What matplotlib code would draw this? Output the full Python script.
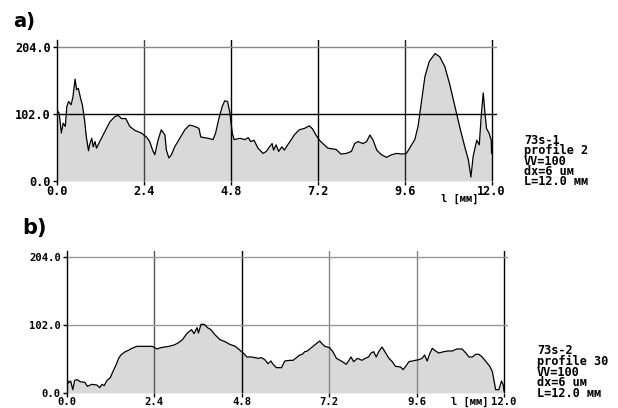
#!/usr/bin/env python3
"""Two surface profiles (73s-1 profile 2, 73s-2 profile 30) in the old plotter style."""

import matplotlib

matplotlib.use("Agg")
import matplotlib.pyplot as plt

W, H = 618, 408

# profile a) : 73s-1, profile 2
a_x = [0.00, 0.06, 0.12, 0.17, 0.23, 0.27, 0.32, 0.39, 0.44, 0.50, 0.54, 0.59, 0.65, 0.70,
       0.76, 0.81, 0.87, 0.90, 0.96, 1.00, 1.05, 1.09, 1.18, 1.32, 1.46, 1.60, 1.69, 1.78,
       1.90, 2.01, 2.15, 2.33, 2.47, 2.56, 2.64, 2.70, 2.79, 2.88, 2.98, 3.02, 3.09, 3.16,
       3.25, 3.39, 3.53, 3.66, 3.75, 3.85, 3.92, 3.97, 4.17, 4.31, 4.38, 4.47, 4.56, 4.63,
       4.71, 4.77, 4.84, 4.89, 5.05, 5.19, 5.28, 5.35, 5.44, 5.55, 5.69, 5.78, 5.87, 5.94,
       5.98, 6.05, 6.12, 6.21, 6.28, 6.37, 6.46, 6.55, 6.69, 6.83, 6.97, 7.06, 7.15, 7.25,
       7.34, 7.48, 7.71, 7.84, 7.99, 8.13, 8.22, 8.31, 8.45, 8.55, 8.64, 8.73, 8.83, 8.96,
       9.10, 9.24, 9.38, 9.52, 9.65, 9.76, 9.88, 9.97, 10.07, 10.16, 10.28, 10.44, 10.57,
       10.71, 10.85, 10.99, 11.13, 11.26, 11.36, 11.43, 11.49, 11.59, 11.66, 11.72, 11.77,
       11.81, 11.86, 11.93, 11.99, 12.00]
a_y = [108, 103, 73, 88, 83, 113, 121, 116, 128, 155, 139, 141, 126, 116,
       93, 67, 46, 55, 65, 52, 60, 50, 60, 75, 90, 98, 100, 95,
       95, 83, 77, 73, 67, 60, 47, 40, 62, 78, 70, 47, 35, 40,
       52, 65, 78, 85, 84, 82, 80, 67, 65, 63, 73, 95, 113, 122,
       121, 105, 73, 63, 65, 63, 66, 60, 62, 50, 42, 45, 52, 57,
       47, 55, 45, 52, 47, 55, 62, 70, 78, 80, 84, 79, 70, 62,
       57, 50, 48, 41, 42, 45, 57, 60, 57, 60, 70, 62, 47, 40,
       36, 40, 42, 41, 42, 52, 63, 83, 123, 159, 182, 194, 189,
       174, 146, 113, 80, 52, 32, 6, 37, 62, 55, 103, 134,
       108, 80, 73, 62, 42]

# profile b) : 73s-2, profile 30
b_x = [0.00, 0.04, 0.10, 0.16, 0.21, 0.28, 0.36, 0.49, 0.56, 0.68, 0.82, 0.90, 0.96, 1.02,
       1.10, 1.19, 1.26, 1.33, 1.42, 1.48, 1.60, 1.69, 1.78, 1.92, 2.11, 2.34, 2.48, 2.57,
       2.68, 2.80, 2.94, 3.05, 3.17, 3.29, 3.35, 3.42, 3.49, 3.57, 3.61, 3.68, 3.77, 3.86,
       3.95, 4.07, 4.20, 4.34, 4.47, 4.62, 4.75, 4.84, 4.94, 5.07, 5.16, 5.25, 5.34, 5.43,
       5.52, 5.60, 5.66, 5.75, 5.89, 5.98, 6.12, 6.21, 6.30, 6.39, 6.46, 6.53, 6.60, 6.71,
       6.80, 6.94, 7.00, 7.08, 7.21, 7.30, 7.40, 7.53, 7.67, 7.73, 7.80, 7.87, 7.98, 8.10,
       8.19, 8.28, 8.35, 8.42, 8.49, 8.56, 8.65, 8.75, 8.84, 8.93, 9.02, 9.16, 9.23, 9.30,
       9.39, 9.48, 9.57, 9.66, 9.75, 9.82, 9.89, 9.96, 10.03, 10.12, 10.21, 10.35, 10.46,
       10.58, 10.70, 10.85, 10.95, 11.04, 11.13, 11.22, 11.31, 11.40, 11.49, 11.61, 11.68,
       11.74, 11.77, 11.86, 11.93, 11.98, 12.00]
b_y = [22, 15, 18, 5, 19, 20, 17, 16, 10, 13, 12, 8, 13, 11,
       19, 23, 32, 40, 52, 57, 62, 64, 67, 70, 70, 70, 66, 68,
       69, 70, 72, 75, 80, 89, 92, 95, 89, 98, 90, 103, 103, 98,
       95, 87, 80, 77, 73, 70, 64, 60, 54, 54, 53, 52, 53, 50,
       44, 48, 43, 38, 38, 48, 49, 49, 53, 57, 58, 62, 63, 68,
       72, 78, 74, 70, 68, 62, 52, 48, 43, 48, 54, 47, 52, 49,
       52, 54, 60, 62, 54, 62, 69, 60, 52, 47, 40, 39, 35, 40,
       47, 48, 49, 50, 52, 57, 48, 59, 67, 63, 60, 62, 63,
       63, 66, 66, 60, 54, 54, 58, 58, 54, 48, 40, 32,
       14, 5, 5, 18, 12, 3]

x_ticks = [0.0, 2.4, 4.8, 7.2, 9.6, 12.0]
y_ticks = [0.0, 102.0, 204.0]

info_a = ["73s-1", "profile 2", "VV=100", "dx=6 uм", "L=12.0 мм"]
info_b = ["73s-2", "profile 30", "VV=100", "dx=6 uм", "L=12.0 мм"]

MONO = "DejaVu Sans Mono"


def draw_panel(ax, x, y, xmax, ymax, vcolors, hcolors, tick_size):
    ax.set_xlim(0, xmax)
    ax.set_ylim(0, ymax)
    ax.fill_between(x, 0, y, color="#d9d9d9", linewidth=0)
    for xv, c in zip(x_ticks[1:], vcolors):
        ax.axvline(xv, color=c, linewidth=1.0)
    for yv, c in zip(y_ticks[1:], hcolors):
        ax.axhline(yv, color=c, linewidth=1.0)
    ax.plot(x, y, color="black", linewidth=0.9)

    for side in ("top", "right", "bottom"):
        ax.spines[side].set_visible(False)
    ax.spines["left"].set_color("black")
    ax.spines["left"].set_linewidth(1.0)

    ax.set_xticks(x_ticks)
    ax.set_xticklabels([f"{v:.1f}" for v in x_ticks])
    ax.set_yticks(y_ticks)
    ax.set_yticklabels([f"{v:.1f}" for v in y_ticks])
    ax.tick_params(axis="both", length=3, width=1, color="black",
                   labelsize=tick_size)
    ax.tick_params(axis="x", pad=0)
    ax.tick_params(axis="y", pad=1.5)
    for lab in ax.get_xticklabels() + ax.get_yticklabels():
        lab.set_family(MONO)
        lab.set_weight("bold")
    ax.patch.set_alpha(0)


def px_text(fig, x, y, s, **kw):
    fig.text(x / W, 1 - y / H, s, **kw)


def main():
    fig = plt.figure(figsize=(W / 100, H / 100), dpi=100)

    ax_a = fig.add_axes([57 / W, 227 / H, 440 / W, 140.6 / H])
    draw_panel(ax_a, a_x, a_y, 12.15, 214,
               ["#444444", "black", "black", "#222222", "black"],
               ["black", "#888888"], 8.6)

    ax_b = fig.add_axes([67 / W, 15 / H, 441.4 / W, 142 / H])
    draw_panel(ax_b, b_x, b_y, 12.12, 213,
               ["#555555", "black", "#888888", "#888888", "black"],
               ["#999999", "#999999"], 7.6)

    px_text(fig, 13, 21, "a)", family="DejaVu Sans", weight="bold",
            fontsize=14, va="center", ha="left")
    px_text(fig, 22, 228, "b)", family="DejaVu Sans", weight="bold",
            fontsize=15, va="center", ha="left")

    px_text(fig, 441, 199, "l [мм]", family=MONO, weight="bold",
            fontsize=7.5, va="center", ha="left")
    px_text(fig, 451, 402, "l [мм]", family=MONO, weight="bold",
            fontsize=7.5, va="center", ha="left")

    # the info blocks are drawn as one text each, lines packed tightly
    px_text(fig, 524, 161, "\n".join(info_a), family=MONO, weight="bold",
            fontsize=8.6, va="center", ha="left", linespacing=0.72)
    px_text(fig, 537, 372, "\n".join(info_b), family=MONO, weight="bold",
            fontsize=8.6, va="center", ha="left", linespacing=0.77)

    fig.savefig("out.png", dpi=100)
    plt.close(fig)


if __name__ == "__main__":
    main()
